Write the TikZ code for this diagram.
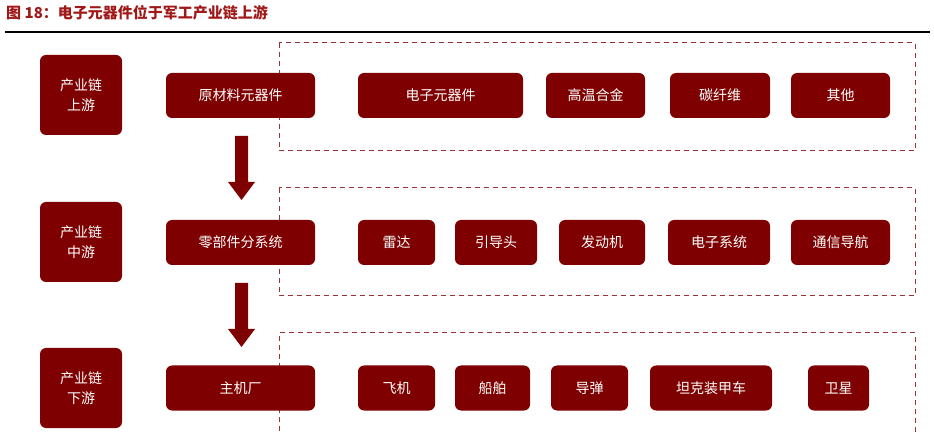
\documentclass[tikz,border=0pt]{standalone}
\usepackage{fontspec}
\newfontfamily\cjk{Noto Sans CJK SC}
\definecolor{dred}{HTML}{7F0000}
\definecolor{tred}{HTML}{A01818}
\begin{document}
\begin{tikzpicture}[x=1pt,y=-1pt,
  bx/.style={fill=dred,rounded corners=6pt,text=white,font=\cjk\fontsize{14}{20}\selectfont,inner sep=0pt,align=center,minimum height=45pt},
  dash box/.style={draw=dred!80,line width=1pt,dash pattern=on 5pt off 4pt},
  arr/.style={fill=dred,draw=none}]
\useasboundingbox (0,0) rectangle (934,435);
\node[anchor=west,text=tred,font=\cjk\bfseries\fontsize{15}{17}\selectfont,inner sep=0pt] (title) at (6,13) {图 18：电子元器件位于军工产业链上游};
\draw[line width=1.5pt] (5,32) -- (930,32);
% dashed frames
\draw[dash box] (279,43) rectangle (915,151);
\draw[dash box] (279,188) rectangle (915,296);
\draw[dash box] (279,440) -- (279,333) -- (915,333) -- (915,440);
% left
\node[bx,minimum width=82pt,minimum height=80pt] (l1) at (81,95) {产业链\\上游};
\node[bx,minimum width=82pt,minimum height=80pt] (l2) at (81,242) {产业链\\中游};
\node[bx,minimum width=82pt,minimum height=80pt] (l3) at (81,388) {产业链\\下游};
% middle
\node[bx,minimum width=149pt] (m1) at (240.5,95.5) {原材料元器件};
\node[bx,minimum width=149pt] (m2) at (240.5,242.5) {零部件分系统};
\node[bx,minimum width=149pt] (m3) at (240.5,388) {主机厂};
% arrows
\fill[arr] (235,136) -- (248,136) -- (248,182) -- (255,182) -- (241.5,200) -- (228,182) -- (235,182) -- cycle;
\fill[arr] (235,283) -- (248,283) -- (248,329) -- (255,329) -- (241.5,347) -- (228,329) -- (235,329) -- cycle;
% row1
\node[bx,minimum width=165pt] (a1) at (440.5,95.5) {电子元器件};
\node[bx,minimum width=99pt] (a2) at (595.5,95.5) {高温合金};
\node[bx,minimum width=100pt] (a3) at (720,95.5) {碳纤维};
\node[bx,minimum width=99pt] (a4) at (840.5,95.5) {其他};
% row2
\node[bx,minimum width=77pt] (b1) at (396.5,242.5) {雷达};
\node[bx,minimum width=82pt] (b2) at (496,242.5) {引导头};
\node[bx,minimum width=86pt] (b3) at (602,242.5) {发动机};
\node[bx,minimum width=102pt] (b4) at (719,242.5) {电子系统};
\node[bx,minimum width=99pt] (b5) at (840.5,242.5) {通信导航};
% row3
\node[bx,minimum width=77pt] (c1) at (396.5,388) {飞机};
\node[bx,minimum width=75pt] (c2) at (492.5,388) {船舶};
\node[bx,minimum width=77pt] (c3) at (589.5,388) {导弹};
\node[bx,minimum width=122pt] (c4) at (711,388) {坦克装甲车};
\node[bx,minimum width=61pt] (c5) at (838.5,388) {卫星};
\end{tikzpicture}
\end{document}
